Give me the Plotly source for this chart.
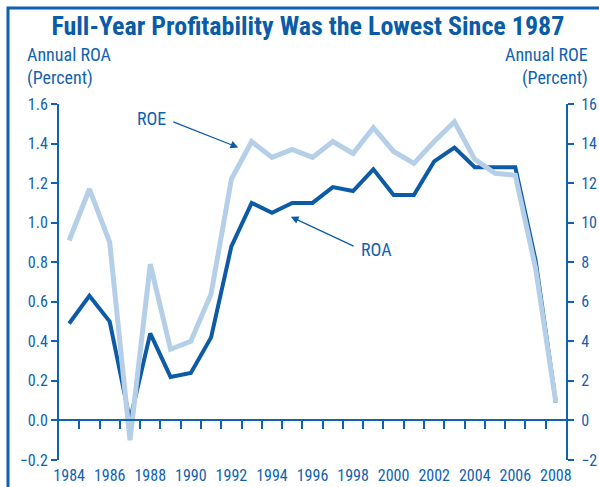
import plotly.graph_objects as go

years = list(range(1984, 2009))
roa = [0.49, 0.63, 0.50, 0.00, 0.44, 0.22, 0.24, 0.42, 0.88, 1.10, 1.05, 1.10, 1.10,
       1.18, 1.16, 1.27, 1.14, 1.14, 1.31, 1.38, 1.28, 1.28, 1.28, 0.81, 0.09]
roe = [9.1, 11.7, 9.0, -1.0, 7.9, 3.6, 4.0, 6.4, 12.2, 14.1, 13.3, 13.7, 13.3,
       14.1, 13.5, 14.8, 13.6, 13.0, 14.1, 15.1, 13.2, 12.5, 12.4, 7.7, 0.9]
roa_ticks = [-0.2, 0.0, 0.2, 0.4, 0.6, 0.8, 1.0, 1.2, 1.4, 1.6]
roe_ticks = [-2, 0, 2, 4, 6, 8, 10, 12, 14, 16]
year_labels = list(range(1984, 2009, 2))
boundary_ticks = [y + 0.5 for y in range(1984, 2008)]

DARK = "#0d5ba7"
LIGHT = "#b5cfe8"
TXT = "#1062b0"
FONT = "Liberation Sans Narrow, Roboto Condensed, Arial Narrow, DejaVu Sans Condensed, sans-serif"

fig = go.Figure()
fig.add_trace(go.Scatter(x=years, y=roa, mode="lines", line=dict(color=DARK, width=4),
                         xaxis="x", yaxis="y", showlegend=False, hoverinfo="skip"))
fig.add_trace(go.Scatter(x=years, y=roe, mode="lines", line=dict(color=LIGHT, width=5),
                         xaxis="x", yaxis="y2", showlegend=False, hoverinfo="skip"))
fig.add_trace(go.Scatter(x=[years[0]], y=[roa[0]], mode="lines", line=dict(width=0),
                         xaxis="x2", yaxis="y", showlegend=False, hoverinfo="skip", opacity=0))

xr = [1983.5, 2008.5]
fig.update_layout(
    width=599, height=487,
    margin=dict(l=59, r=33, t=104, b=27, autoexpand=False),
    paper_bgcolor="white", plot_bgcolor="white",
    font=dict(family=FONT, color=TXT, size=16),
    showlegend=False,
    title=dict(text="<b>Full-Year Profitability Was the Lowest Since 1987</b>",
               x=0.514, xref="container", xanchor="center",
               y=0.946, yref="container", yanchor="middle", automargin=False,
               font=dict(family=FONT, size=26, color="#0a5ca8")),
    xaxis=dict(range=xr, tickvals=year_labels, ticktext=[str(v) for v in year_labels],
               ticks="", showline=False, showgrid=False, zeroline=False, anchor="y",
               automargin=False, ticklabelstandoff=4, tickfont=dict(size=16, color=TXT)),
    xaxis2=dict(range=xr, overlaying="x", anchor="free", position=0.2 / 1.8,
                tickvals=boundary_ticks, ticks="outside", ticklen=8, tickwidth=2,
                tickcolor=TXT, showticklabels=False, showline=True, linecolor=TXT,
                linewidth=2, showgrid=False, zeroline=False, automargin=False),
    yaxis=dict(range=[-0.2, 1.6], tickvals=roa_ticks, tickformat=".1f",
               ticks="outside", ticklen=6, tickwidth=2, tickcolor=TXT,
               showline=True, linecolor=TXT, linewidth=2, showgrid=False, zeroline=False,
               automargin=False, tickfont=dict(size=16, color=TXT)),
    yaxis2=dict(range=[-2, 16], tickvals=roe_ticks, overlaying="y", side="right",
                ticks="outside", ticklen=6, tickwidth=2, tickcolor=TXT,
                showline=True, linecolor=TXT, linewidth=2, showgrid=False, zeroline=False,
                automargin=False, ticklabelstandoff=4, tickfont=dict(size=16, color=TXT)),
)

fig.add_annotation(text="Annual ROA<br>(Percent)", xref="paper", yref="paper",
                   x=-0.067, y=1.104, xanchor="left", yanchor="middle", align="left",
                   showarrow=False, font=dict(size=18, color=TXT))
fig.add_annotation(text="Annual ROE<br>(Percent)", xref="paper", yref="paper",
                   x=1.047, y=1.104, xanchor="right", yanchor="middle", align="right",
                   showarrow=False, font=dict(size=18, color=TXT))

# labels and arrows
fig.add_annotation(text="ROE", x=1988.06, y=1.527, xref="x", yref="y",
                   showarrow=False, font=dict(size=18, color=TXT))
fig.add_annotation(text="", x=1992.34, y=1.380, ax=1989.06, ay=1.513,
                   xref="x", yref="y", axref="x", ayref="y",
                   showarrow=True, arrowhead=2, arrowsize=1.2, arrowwidth=1.3, arrowcolor=DARK)
fig.add_annotation(text="ROA", x=1999.18, y=0.864, xref="x", yref="y",
                   showarrow=False, font=dict(size=18, color=TXT))
fig.add_annotation(text="", x=1994.93, y=1.030, ax=1998.10, ay=0.878,
                   xref="x", yref="y", axref="x", ayref="y",
                   showarrow=True, arrowhead=2, arrowsize=1.2, arrowwidth=1.3, arrowcolor=DARK)

# outer frame (left and top visible)
fig.add_shape(type="rect", xref="paper", yref="paper",
              x0=-0.1006, x1=1.2, y0=-0.2, y1=1.2697,
              line=dict(color="#1060b0", width=3), fillcolor="rgba(0,0,0,0)", layer="below")

fig.write_html("out.html", config={"displayModeBar": False},
               post_script="document.body.style.margin='0';document.body.style.overflow='hidden';")
